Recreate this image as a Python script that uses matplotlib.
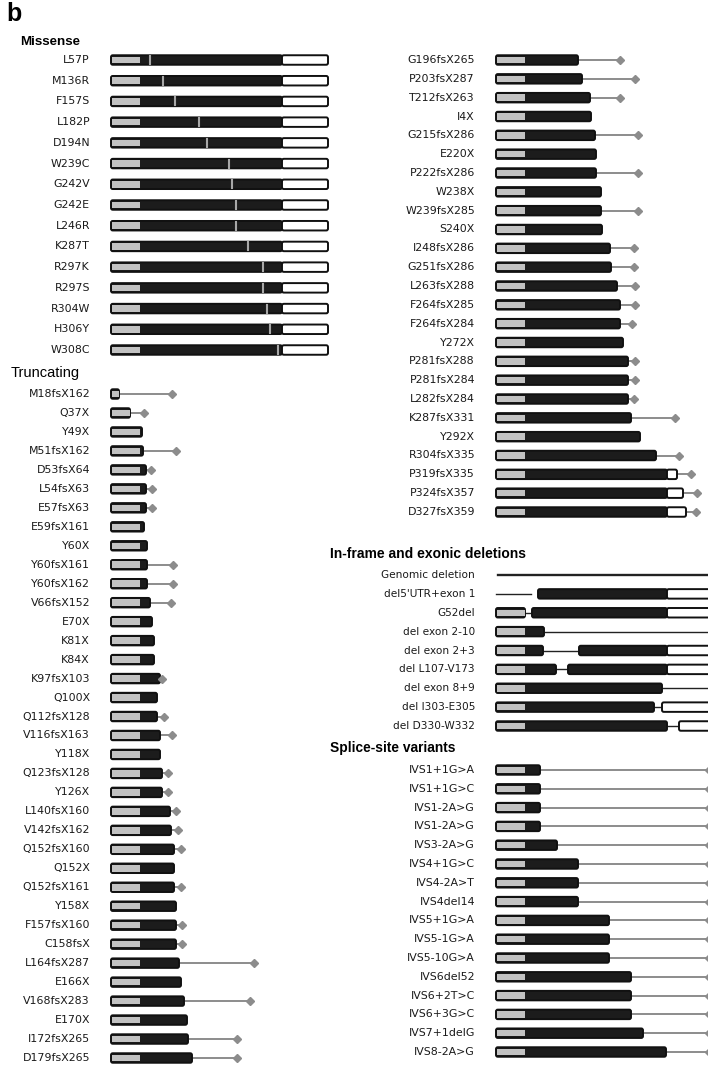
import matplotlib
matplotlib.use("Agg")
import matplotlib.pyplot as plt
from matplotlib.patches import FancyBboxPatch, Rectangle
import numpy as np

plt.rcParams['font.family'] = ['DejaVu Sans']

# protein schematic, arbitrary units along the drawn bar
GRAY_END = 29      # end of the grey (leader) block
BLACK_END = 171    # end of the coding (black) block
FULL_END = 217     # end of the white tail block

nan = np.nan

missense_labels = ['L57P', 'M136R', 'F157S', 'L182P', 'D194N', 'W239C', 'G242V',
                   'G242E', 'L246R', 'K287T', 'R297K', 'R297S', 'R304W', 'H306Y',
                   'W308C']
missense_pos = [39, 52, 64, 88, 96, 118, 121, 125, 125, 137, 152, 152, 156, 159, 167]

trunc_l_labels = ['M18fsX162', 'Q37X', 'Y49X', 'M51fsX162', 'D53fsX64', 'L54fsX63',
                  'E57fsX63', 'E59fsX161', 'Y60X', 'Y60fsX161', 'Y60fsX162',
                  'V66fsX152', 'E70X', 'K81X', 'K84X', 'K97fsX103', 'Q100X',
                  'Q112fsX128', 'V116fsX163', 'Y118X', 'Q123fsX128', 'Y126X',
                  'L140fsX160', 'V142fsX162', 'Q152fsX160', 'Q152X', 'Q152fsX161',
                  'Y158X', 'F157fsX160', 'C158fsX', 'L164fsX287', 'E166X',
                  'V168fsX283', 'E170X', 'I172fsX265', 'D179fsX265']
trunc_l_end = [8, 19, 31, 32, 35, 35, 35, 33, 36, 36, 36, 39, 41, 43, 43, 49, 46,
               46, 49, 49, 51, 51, 59, 60, 63, 63, 63, 65, 65, 65, 68, 70, 73, 76,
               77, 81]
trunc_l_tail = [61, 33, nan, 65, 40, 41, 41, nan, nan, 62, 62, 60, nan, nan, nan,
                51, nan, 53, 61, nan, 57, 57, 65, 67, 70, nan, 70, nan, 71, 71, 143,
                nan, 139, nan, 126, 126]

trunc_r_labels = ['G196fsX265', 'P203fsX287', 'T212fsX263', 'I4X', 'G215fsX286',
                  'E220X', 'P222fsX286', 'W238X', 'W239fsX285', 'S240X',
                  'I248fsX286', 'G251fsX286', 'L263fsX288', 'F264fsX285',
                  'F264fsX284', 'Y272X', 'P281fsX288', 'P281fsX284', 'L282fsX284',
                  'K287fsX331', 'Y292X', 'R304fsX335', 'P319fsX335', 'P324fsX357',
                  'D327fsX359']
trunc_r_end = [82, 86, 94, 95, 99, 100, 100, 105, 105, 106, 114, 115, 121, 124, 124,
               127, 132, 132, 132, 135, 144, 160, 181, 187, 190]
trunc_r_tail = [124, 139, 124, nan, 142, nan, 142, nan, 142, nan, 138, 138, 139, 139,
                136, nan, 139, 139, 138, 179, nan, 183, 195, 201, 200]

deletion_labels = ['Genomic deletion', "del5'UTR+exon 1", 'G52del', 'del exon 2-10',
                   'del exon 2+3', 'del L107-V173', 'del exon 8+9', 'del I303-E305',
                   'del D330-W332']
# pieces: 'body' = grey/black protein, 'white' = tail block, 'line' = deleted stretch
deletion_pieces = [
    [('line', 2, FULL_END)],
    [('line', 0, 35), ('body', 42, BLACK_END), ('white', BLACK_END, FULL_END)],
    [('body', 0, 29), ('line', 29, 36), ('body', 36, BLACK_END),
     ('white', BLACK_END, FULL_END)],
    [('body', 0, 48), ('line', 48, FULL_END)],
    [('body', 0, 47), ('line', 47, 83), ('body', 83, BLACK_END),
     ('white', BLACK_END, FULL_END)],
    [('body', 0, 60), ('line', 60, 72), ('body', 72, BLACK_END),
     ('white', BLACK_END, FULL_END)],
    [('body', 0, 166), ('line', 166, FULL_END)],
    [('body', 0, 158), ('line', 158, 166), ('white', 166, FULL_END)],
    [('body', 0, BLACK_END), ('line', BLACK_END, 183), ('white', 183, FULL_END)],
]

splice_labels = ['IVS1+1G>A', 'IVS1+1G>C', 'IVS1-2A>G', 'IVS1-2A>G', 'IVS3-2A>G',
                 'IVS4+1G>C', 'IVS4-2A>T', 'IVS4del14', 'IVS5+1G>A', 'IVS5-1G>A',
                 'IVS5-10G>A', 'IVS6del52', 'IVS6+2T>C', 'IVS6+3G>C', 'IVS7+1delG',
                 'IVS8-2A>G']
splice_end = [44, 44, 44, 44, 61, 82, 82, 82, 113, 113, 113, 135, 135, 135, 147, 170]
splice_tail = 213

GRAY = '#c2c2c2'
DARK = '#1c1c1c'
EDGE = '#111111'
TAIL = '#8c8c8c'
H = 9.5
LBL_X = -21


def box(ax, x0, x1, y, fc):
    ax.add_patch(FancyBboxPatch((x0, y - H / 2), x1 - x0, H,
                                boxstyle='round,pad=0,rounding_size=1.8',
                                fc=fc, ec=EDGE, lw=1.4, zorder=2))


def body(ax, x0, x1, y):
    box(ax, x0, x1, y, DARK)
    g1 = min(x1, GRAY_END)
    if x0 < g1:
        ax.add_patch(Rectangle((x0 + 1.3, y - H / 2 + 1.5), g1 - x0 - 1.8, H - 3.0,
                               fc=GRAY, ec='none', zorder=3))


def protein(ax, y, end):
    body(ax, 0, min(end, BLACK_END), y)
    if end > BLACK_END:
        box(ax, BLACK_END, end, y, 'white')


def tail(ax, y, x0, x1):
    ax.plot([x0, x1], [y, y], color=TAIL, lw=1.4, zorder=1, solid_capstyle='butt')
    ax.plot([x1], [y], marker='D', ms=4.4, color=TAIL, mec=TAIL, zorder=4)


def label(ax, y, s, **kw):
    ax.text(LBL_X, y, s, ha='right', va='center', fontsize=7.9, color='#1a1a1a', **kw)


def rows(y0, y1, n):
    return np.linspace(y0, y1, n)


fig = plt.figure(figsize=(7.08, 10.67), dpi=100)
axL = fig.add_axes([0, 0, 0.5, 1])
axR = fig.add_axes([0.5, 0, 0.5, 1])
axL.set_xlim(-111, 243)
axR.set_xlim(-142, 212)
for ax in (axL, axR):
    ax.set_ylim(1067, 0)
    ax.axis('off')

# missense
for y, s, p in zip(rows(60, 350, len(missense_labels)), missense_labels, missense_pos):
    protein(axL, y, FULL_END)
    axL.plot([p, p], [y - H / 2 + 0.7, y + H / 2 - 0.7], color='#a8a8a8', lw=1.5, zorder=5)
    label(axL, y, s)

# truncating, left column
for y, s, e, t in zip(rows(394, 1058, len(trunc_l_labels)), trunc_l_labels,
                      trunc_l_end, trunc_l_tail):
    if not np.isnan(t):
        tail(axL, y, e, t)
    protein(axL, y, e)
    label(axL, y, s)

# truncating, right column
for y, s, e, t in zip(rows(60, 512, len(trunc_r_labels)), trunc_r_labels,
                      trunc_r_end, trunc_r_tail):
    if not np.isnan(t):
        tail(axR, y, e, t)
    protein(axR, y, e)
    label(axR, y, s)

# in-frame and exonic deletions
for i, (y, s, pcs) in enumerate(zip(rows(575, 726, len(deletion_labels)),
                                    deletion_labels, deletion_pieces)):
    for kind, a, b in pcs:
        if kind == 'line':
            axR.plot([a, b], [y, y], color='#222222', lw=1.7 if i == 0 else 1.0, zorder=1)
        elif kind == 'body':
            body(axR, a, b, y)
        else:
            box(axR, a, b, y, 'white')
    axR.text(LBL_X, y, s, ha='right', va='center', fontsize=7.6, color='#1a1a1a')

# splice-site variants
for y, s, e in zip(rows(770, 1052, len(splice_labels)), splice_labels, splice_end):
    tail(axR, y, e, splice_tail)
    protein(axR, y, e)
    label(axR, y, s)

W, Hpx = 708, 1067
title_font = ['Liberation Sans', 'DejaVu Sans']
fig.text(6 / W, 1 - 2 / Hpx, 'b', fontsize=18, fontweight='bold', va='top',
         family=title_font)
fig.text(20 / W, 1 - 42 / Hpx, 'Missense', fontsize=9.6, fontweight='bold',
         va='center', family=title_font)
fig.text(11 / W, 1 - 373 / Hpx, 'Truncating', fontsize=10.5, va='center',
         family=title_font)
fig.text(330 / W, 1 - 554 / Hpx, 'In-frame and exonic deletions', fontsize=10,
         fontweight='bold', va='center', family=title_font)
fig.text(330 / W, 1 - 748 / Hpx, 'Splice-site variants', fontsize=9.9,
         fontweight='bold', va='center', family=title_font)

fig.savefig('out.png', dpi=100, facecolor='white')
